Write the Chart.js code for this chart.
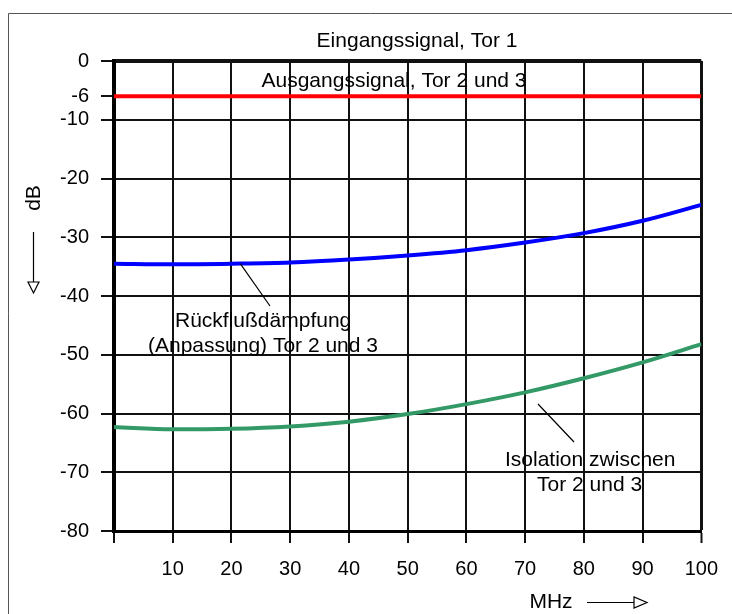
<!DOCTYPE html>
<html>
<head>
<meta charset="utf-8">
<script src="https://cdn.jsdelivr.net/npm/chart.js@4/dist/chart.umd.min.js"></script>
<style>
  body { margin: 0; background: #fff; }
  canvas { display: block; }
</style>
</head>
<body>
<canvas id="chart" width="732" height="614"></canvas>
<script>
// Frequenz in MHz
const freq = [0, 10, 20, 30, 40, 50, 60, 70, 80, 90, 100];
// Werte in dB
const ausgang = [-6, -6, -6, -6, -6, -6, -6, -6, -6, -6, -6];
const rueckfluss = [-34.5, -34.6, -34.5, -34.3, -33.8, -33.1, -32.2, -30.9, -29.3, -27.2, -24.5];
const isolation = [-62.3, -62.7, -62.6, -62.2, -61.4, -60.1, -58.4, -56.4, -54.0, -51.3, -48.2];
const yTicks = [0, -6, -10, -20, -30, -40, -50, -60, -70, -80];

const FONT = '"Liberation Sans", Arial, sans-serif';

const toPoints = (vals) => freq.map((f, i) => ({ x: f, y: vals[i] }));

// Beschriftungen, Pfeile und Rahmen
const beschriftung = {
  id: "beschriftung",
  afterDraw(chart) {
    const c = chart.ctx;
    const xs = chart.scales.x;
    const ys = chart.scales.y;
    c.save();

    // Rahmen
    c.strokeStyle = "#555";
    c.lineWidth = 1;
    c.beginPath();
    c.moveTo(8.5, 614);
    c.lineTo(8.5, 13.5);
    c.lineTo(732, 13.5);
    c.stroke();

    c.fillStyle = "#000";
    c.font = "21px " + FONT;
    c.textBaseline = "middle";

    c.textAlign = "center";
    c.fillText("Eingangssignal, Tor 1", 417, 41);
    c.fillText("Ausgangssignal, Tor 2 und 3", 394, 81);

    c.textAlign = "left";
    c.fillText("Rückflußdämpfung", 175, 321);
    c.fillText("(Anpassung) Tor 2 und 3", 148, 346);
    c.fillText("Isolation zwischen", 505, 460);
    c.fillText("Tor 2 und 3", 537, 485);

    // Hinweislinien
    c.strokeStyle = "#000";
    c.lineWidth = 1.2;
    c.beginPath();
    c.moveTo(xs.getPixelForValue(21.5), ys.getPixelForValue(-34.5));
    c.lineTo(270, 306);
    c.moveTo(538, 404);
    c.lineTo(574, 442);
    c.stroke();

    // y-Achsentitel
    c.save();
    c.translate(34, 198);
    c.rotate(-Math.PI / 2);
    c.textAlign = "center";
    c.fillText("dB", 0, 0);
    c.restore();

    c.lineWidth = 1.2;
    c.beginPath();
    c.moveTo(33.5, 232);
    c.lineTo(33.5, 282);
    c.stroke();
    c.beginPath();
    c.moveTo(28, 282);
    c.lineTo(39, 282);
    c.lineTo(33.5, 293);
    c.closePath();
    c.fillStyle = "#fff";
    c.fill();
    c.stroke();

    // x-Achsentitel
    c.fillStyle = "#000";
    c.textAlign = "center";
    c.fillText("MHz", 551, 602);
    c.beginPath();
    c.moveTo(587, 602.5);
    c.lineTo(634, 602.5);
    c.stroke();
    c.beginPath();
    c.moveTo(634, 597);
    c.lineTo(634, 608);
    c.lineTo(647, 602.5);
    c.closePath();
    c.fillStyle = "#fff";
    c.fill();
    c.stroke();

    c.restore();
  }
};

new Chart(document.getElementById("chart"), {
  type: "line",
  data: {
    datasets: [
      {
        label: "Ausgangssignal, Tor 2 und 3",
        data: toPoints(ausgang),
        borderColor: "#ff0000",
        borderWidth: 4,
        pointRadius: 0,
        tension: 0
      },
      {
        label: "Rückflußdämpfung",
        data: toPoints(rueckfluss),
        borderColor: "#0000ff",
        borderWidth: 4,
        pointRadius: 0,
        cubicInterpolationMode: "monotone"
      },
      {
        label: "Isolation zwischen Tor 2 und 3",
        data: toPoints(isolation),
        borderColor: "#339966",
        borderWidth: 4,
        pointRadius: 0,
        cubicInterpolationMode: "monotone"
      }
    ]
  },
  options: {
    responsive: false,
    animation: false,
    layout: { padding: { left: 0, top: 61, right: 27, bottom: 0 } },
    plugins: {
      legend: { display: false },
      tooltip: { enabled: false }
    },
    scales: {
      x: {
        type: "linear",
        min: 0,
        max: 100,
        afterFit: (s) => { s.height = 83; },
        ticks: {
          stepSize: 10,
          color: "#000",
          font: { size: 20, family: FONT },
          padding: 14,
          maxRotation: 0,
          callback: (v) => (v === 0 ? "" : v)
        },
        grid: {
          color: "#111",
          lineWidth: (ctx) => (ctx.tick && ctx.tick.value === 100 ? 3 : 2),
          tickLength: 12,
          tickColor: "#111",
          tickWidth: 2
        },
        border: { display: true, color: "#000", width: 3 }
      },
      y: {
        type: "linear",
        min: -80,
        max: 0,
        afterFit: (s) => { s.width = 114; },
        afterBuildTicks: (s) => { s.ticks = yTicks.map((v) => ({ value: v })); },
        ticks: {
          color: "#000",
          font: { size: 20, family: FONT },
          padding: 12,
          callback: (v) => v
        },
        grid: {
          color: "#111",
          lineWidth: (ctx) => (ctx.tick && ctx.tick.value === 0 ? 4 : 2),
          tickLength: 13,
          tickColor: "#111",
          tickWidth: 2
        },
        border: { display: true, color: "#000", width: 4 }
      }
    }
  },
  plugins: [beschriftung]
});
</script>
</body>
</html>
